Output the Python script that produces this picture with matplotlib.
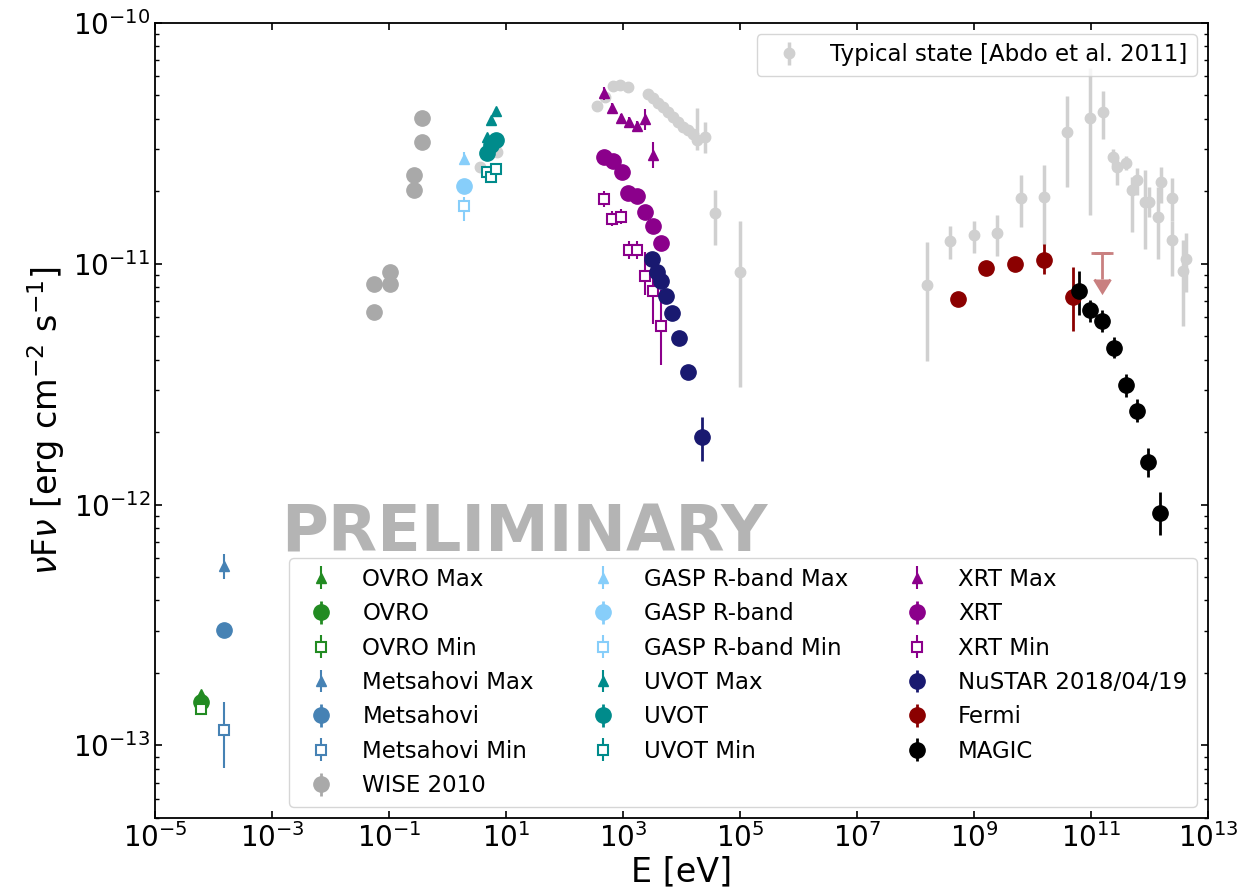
import matplotlib
matplotlib.use('Agg')
import matplotlib.pyplot as plt
import numpy as np
from matplotlib.ticker import NullLocator

# typical state [Abdo et al. 2011]
typ_E = [3.59, 6.94, 355, 492, 682, 889, 1233, 2710, 3300, 4010, 4890, 5950, 7240, 8810,
         10730, 13060, 15900, 18200, 25230, 37400, 1.0e5,
         1.55e8, 3.89e8, 1.0e9, 2.44e9, 6.29e9, 1.57e10, 3.94e10, 9.62e10, 1.62e11, 2.35e11,
         2.82e11, 3.97e11, 4.96e11, 6.04e11, 8.37e11, 9.93e11, 1.41e12, 1.55e12, 2.45e12,
         2.45e12, 4.15e12, 3.78e12]
typ_F = [2.51e-11, 2.91e-11, 4.52e-11, 4.94e-11, 5.47e-11, 5.52e-11, 5.40e-11, 5.07e-11,
         4.87e-11, 4.64e-11, 4.46e-11, 4.27e-11, 4.07e-11, 3.88e-11, 3.70e-11, 3.59e-11,
         3.47e-11, 3.26e-11, 3.37e-11, 1.62e-11, 9.23e-12,
         8.13e-12, 1.24e-11, 1.32e-11, 1.34e-11, 1.88e-11, 1.89e-11, 3.53e-11, 4.04e-11,
         4.27e-11, 2.76e-11, 2.52e-11, 2.62e-11, 2.03e-11, 2.22e-11, 1.80e-11, 1.81e-11,
         1.56e-11, 2.19e-11, 1.88e-11, 1.26e-11, 1.05e-11, 9.37e-12]
typ_lo = [2.51e-11, 2.91e-11, 4.52e-11, 4.94e-11, 5.47e-11, 5.52e-11, 5.40e-11, 5.07e-11,
          4.87e-11, 4.64e-11, 4.46e-11, 4.27e-11, 4.07e-11, 3.88e-11, 3.70e-11, 3.59e-11,
          3.47e-11, 2.96e-11, 2.87e-11, 1.19e-11, 3.07e-12,
          3.96e-12, 1.05e-11, 1.11e-11, 1.08e-11, 1.42e-11, 1.19e-11, 2.08e-11, 1.60e-11,
          3.28e-11, 2.55e-11, 2.12e-11, 2.45e-11, 1.35e-11, 1.92e-11, 1.15e-11, 1.56e-11,
          1.05e-11, 1.78e-11, 1.50e-11, 8.93e-12, 7.62e-12, 5.53e-12]
typ_hi = [2.51e-11, 2.91e-11, 4.52e-11, 4.94e-11, 5.47e-11, 5.52e-11, 5.40e-11, 5.07e-11,
          4.87e-11, 4.64e-11, 4.46e-11, 4.27e-11, 4.07e-11, 3.88e-11, 3.70e-11, 3.59e-11,
          3.47e-11, 4.43e-11, 3.88e-11, 2.02e-11, 1.51e-11,
          1.23e-11, 1.44e-11, 1.51e-11, 1.59e-11, 2.33e-11, 2.56e-11, 4.97e-11, 6.5e-11,
          5.22e-11, 3.00e-11, 2.77e-11, 2.80e-11, 2.29e-11, 2.49e-11, 2.44e-11, 2.08e-11,
          2.08e-11, 2.52e-11, 2.26e-11, 1.50e-11, 1.34e-11, 1.25e-11]

# radio
ovro_E = [6.2e-5]
ovro_F = [1.52e-13]
ovro_max_F = [1.63e-13]
ovro_min_F = [1.42e-13]
mets_E = [1.53e-4]
mets_F = [3.03e-13]
mets_max_F = [5.55e-13]
mets_max_lo = [4.93e-13]
mets_max_hi = [6.25e-13]
mets_min_F = [1.16e-13]
mets_min_lo = [8.03e-14]
mets_min_hi = [1.52e-13]

# infrared / optical / UV
wise_E = [0.056, 0.056, 0.103, 0.103, 0.27, 0.27, 0.365, 0.365]
wise_F = [8.26e-12, 6.29e-12, 9.22e-12, 8.26e-12, 2.33e-11, 2.03e-11, 4.03e-11, 3.21e-11]
gasp_E = [1.91]
gasp_F = [2.10e-11]
gasp_max_F = [2.71e-11]
gasp_max_lo = [2.56e-11]
gasp_max_hi = [2.91e-11]
gasp_min_F = [1.73e-11]
gasp_min_lo = [1.51e-11]
gasp_min_hi = [1.89e-11]
uvot_E = [4.7, 5.6, 6.8]
uvot_F = [2.87e-11, 3.11e-11, 3.26e-11]
uvot_max_F = [3.36e-11, 3.95e-11, 4.30e-11]
uvot_min_F = [2.40e-11, 2.29e-11, 2.48e-11]

# X-rays
xrt_E = [473, 682, 950, 1233, 1755, 2377, 3300, 4406]
xrt_F = [2.76e-11, 2.67e-11, 2.40e-11, 1.97e-11, 1.91e-11, 1.64e-11, 1.44e-11, 1.22e-11]
xrt_max_E = [473, 656, 914, 1268, 1715, 2377, 3218]
xrt_max_F = [5.10e-11, 4.42e-11, 4.01e-11, 3.88e-11, 3.73e-11, 3.97e-11, 2.82e-11]
xrt_max_lo = [4.8e-11, 4.2e-11, 3.8e-11, 3.7e-11, 3.55e-11, 3.6e-11, 2.49e-11]
xrt_max_hi = [5.4e-11, 4.65e-11, 4.2e-11, 4.05e-11, 3.9e-11, 4.4e-11, 3.21e-11]
xrt_min_E = [473, 656, 914, 1268, 1715, 2377, 3218, 4406]
xrt_min_F = [1.86e-11, 1.54e-11, 1.57e-11, 1.14e-11, 1.14e-11, 8.88e-12, 7.67e-12, 5.50e-12]
xrt_min_lo = [1.72e-11, 1.43e-11, 1.46e-11, 1.05e-11, 1.05e-11, 7.38e-12, 5.62e-12, 3.78e-12]
xrt_min_hi = [2.00e-11, 1.66e-11, 1.69e-11, 1.24e-11, 1.24e-11, 1.12e-11, 9.38e-12, 7.74e-12]
nustar_E = [3097, 3770, 4406, 5430, 6960, 9170, 13060, 22690]
nustar_F = [1.042e-11, 9.23e-12, 8.47e-12, 7.33e-12, 6.23e-12, 4.90e-12, 3.54e-12, 1.90e-12]
nustar_lo = [1.0e-11, 8.9e-12, 8.2e-12, 7.1e-12, 6.0e-12, 4.7e-12, 3.4e-12, 1.52e-12]
nustar_hi = [1.08e-11, 9.55e-12, 8.75e-12, 7.55e-12, 6.45e-12, 5.1e-12, 3.7e-12, 2.30e-12]

# gamma rays
fermi_E = [5.26e8, 1.60e9, 5.08e9, 1.59e10, 4.87e10]
fermi_F = [7.15e-12, 9.59e-12, 1.0e-11, 1.04e-11, 7.26e-12]
fermi_lo = [6.9e-12, 9.3e-12, 9.3e-12, 9.08e-12, 5.27e-12]
fermi_hi = [7.4e-12, 9.9e-12, 1.07e-11, 1.21e-11, 9.68e-12]
fermi_ul_E = [1.52e11]
fermi_ul_F = [1.11e-11]
magic_E = [6.3e10, 9.8e10, 1.55e11, 2.45e11, 3.95e11, 6.2e11, 9.4e11, 1.5e12]
magic_F = [7.69e-12, 6.40e-12, 5.77e-12, 4.47e-12, 3.13e-12, 2.45e-12, 1.50e-12, 9.22e-13]
magic_lo = [6.10e-12, 5.75e-12, 5.2e-12, 4.05e-12, 2.8e-12, 2.2e-12, 1.3e-12, 7.5e-13]
magic_hi = [9.37e-12, 7.1e-12, 6.4e-12, 4.95e-12, 3.5e-12, 2.75e-12, 1.72e-12, 1.13e-12]


def yerr(F, lo=None, hi=None, frac=0.04):
    F = np.array(F)
    if lo is None:
        return [F * frac, F * frac]
    return [F - np.array(lo), np.array(hi) - F]


fig = plt.figure(figsize=(12.42, 8.94), dpi=100)
ax = fig.add_axes([0.1248, 0.085, 0.8478, 0.8895])

big = dict(fmt='o', ms=11, elinewidth=2, capsize=0)
tri = dict(fmt='^', ms=7, elinewidth=1.5, capsize=0)
sq = dict(fmt='s', ms=6.5, mfc='white', mew=1.5, elinewidth=1.5, capsize=0)

typ = ax.errorbar(typ_E, typ_F, yerr=yerr(typ_F, typ_lo, typ_hi), fmt='o', ms=7.5,
                  color='#d0d0d0', elinewidth=2.5, capsize=0, zorder=1,
                  label='Typical state [Abdo et al. 2011]')

h = []
c = 'forestgreen'
h.append(ax.errorbar(ovro_E, ovro_max_F, yerr=yerr(ovro_max_F, frac=0.03), color=c, label='OVRO Max', **tri))
h.append(ax.errorbar(ovro_E, ovro_F, yerr=yerr(ovro_F, frac=0.03), color=c, label='OVRO', **big))
h.append(ax.errorbar(ovro_E, ovro_min_F, yerr=yerr(ovro_min_F, frac=0.03), color=c, mec=c, label='OVRO Min', **sq))
c = 'steelblue'
h.append(ax.errorbar(mets_E, mets_max_F, yerr=yerr(mets_max_F, mets_max_lo, mets_max_hi), color=c, label='Metsahovi Max', **tri))
h.append(ax.errorbar(mets_E, mets_F, yerr=yerr(mets_F, frac=0.03), color=c, label='Metsahovi', **big))
h.append(ax.errorbar(mets_E, mets_min_F, yerr=yerr(mets_min_F, mets_min_lo, mets_min_hi), color=c, mec=c, label='Metsahovi Min', **sq))
h.append(ax.errorbar(wise_E, wise_F, yerr=yerr(wise_F, frac=0.01), color='darkgray', label='WISE 2010', **big))
c = 'lightskyblue'
h.append(ax.errorbar(gasp_E, gasp_max_F, yerr=yerr(gasp_max_F, gasp_max_lo, gasp_max_hi), color=c, label='GASP R-band Max', **tri))
h.append(ax.errorbar(gasp_E, gasp_F, yerr=yerr(gasp_F, frac=0.01), color=c, label='GASP R-band', **big))
h.append(ax.errorbar(gasp_E, gasp_min_F, yerr=yerr(gasp_min_F, gasp_min_lo, gasp_min_hi), color=c, mec=c, label='GASP R-band Min', **sq))
c = 'darkcyan'
h.append(ax.errorbar(uvot_E, uvot_max_F, yerr=yerr(uvot_max_F, frac=0.03), color=c, label='UVOT Max', **tri))
h.append(ax.errorbar(uvot_E, uvot_F, yerr=yerr(uvot_F, frac=0.02), color=c, label='UVOT', **big))
h.append(ax.errorbar(uvot_E, uvot_min_F, yerr=yerr(uvot_min_F, frac=0.02), color=c, mec=c, label='UVOT Min', **sq))
c = 'darkmagenta'
h.append(ax.errorbar(xrt_max_E, xrt_max_F, yerr=yerr(xrt_max_F, xrt_max_lo, xrt_max_hi), color=c, label='XRT Max', **tri))
h.append(ax.errorbar(xrt_E, xrt_F, yerr=yerr(xrt_F, frac=0.02), color=c, label='XRT', **big))
h.append(ax.errorbar(xrt_min_E, xrt_min_F, yerr=yerr(xrt_min_F, xrt_min_lo, xrt_min_hi), color=c, mec=c, label='XRT Min', **sq))
h.append(ax.errorbar(nustar_E, nustar_F, yerr=yerr(nustar_F, nustar_lo, nustar_hi), color='midnightblue', label='NuSTAR 2018/04/19', **big))
h.append(ax.errorbar(fermi_E, fermi_F, yerr=yerr(fermi_F, fermi_lo, fermi_hi), color='darkred', label='Fermi', **big))
h.append(ax.errorbar(magic_E, magic_F, yerr=yerr(magic_F, magic_lo, magic_hi), color='black', label='MAGIC', **big))

# Fermi upper limit
ul_F = np.array(fermi_ul_F)
ax.errorbar(fermi_ul_E, ul_F, yerr=[ul_F * 0.22, ul_F * 0], uplims=True, fmt='_', ms=16, mew=2,
            color='#c98080', elinewidth=2, capsize=6)

ax.set_xscale('log')
ax.set_yscale('log')
ax.set_xlim(1e-5, 1e13)
ax.set_ylim(5e-14, 1e-10)
ax.set_xticks(10.0 ** np.arange(-5, 14, 2))
ax.xaxis.set_minor_locator(NullLocator())
ax.tick_params(which='both', direction='in', top=True, right=True, labelsize=20)
ax.tick_params(which='major', length=5, width=1.2)
ax.tick_params(which='minor', length=3, width=1)
for s in ax.spines.values():
    s.set_linewidth(1.3)

ax.set_xlabel('E [eV]', fontsize=24, labelpad=2)
ax.set_ylabel(r'$\nu$F$\nu$ [erg cm$^{-2}$ s$^{-1}$]', fontsize=24)

ax.text(0.351, 0.358, 'PRELIMINARY', transform=ax.transAxes, fontsize=46, fontweight='bold',
        color='#b4b4b4', ha='center', va='center', zorder=0)

leg1 = ax.legend(handles=[typ], loc='upper right', fontsize=16.5, numpoints=1)
ax.add_artist(leg1)
ax.legend(handles=h, loc='lower right', ncol=3, fontsize=16.5, numpoints=1, labelspacing=0.5)

fig.savefig('out.png', dpi=100)
